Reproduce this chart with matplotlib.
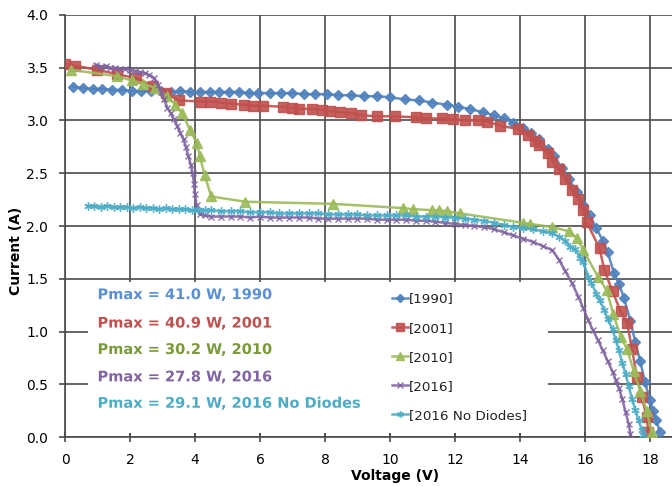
import matplotlib
matplotlib.use("Agg")
import matplotlib.pyplot as plt
from matplotlib.patches import Rectangle
import matplotlib.patheffects as pe

# ---- data ----
v1990 = [0.25,0.55,0.85,1.15,1.45,1.75,2.05,2.35,2.65,2.95,3.25,3.55,3.85,4.15,4.45,4.75,5.05,5.35,5.65,5.95,
         6.3,6.65,7.0,7.35,7.7,8.05,8.4,8.8,9.2,9.6,10.0,10.45,10.9,11.3,11.75,12.1,12.45,12.85,13.2,13.5,
         13.8,14.1,14.35,14.6,14.85,15.05,15.3,15.5,15.75,15.95,16.15,16.35,16.55,16.7,16.9,17.05,17.2,17.4,17.55,17.7,
         17.85,18.0,18.1,18.2,18.3]
i1990 = [3.32,3.31,3.30,3.30,3.29,3.29,3.28,3.28,3.28,3.28,3.27,3.28,3.27,3.27,3.27,3.27,3.27,3.27,3.26,3.26,
         3.26,3.26,3.26,3.25,3.25,3.25,3.24,3.24,3.23,3.23,3.22,3.20,3.19,3.17,3.15,3.13,3.11,3.08,3.05,3.02,
         2.98,2.93,2.88,2.82,2.73,2.66,2.55,2.45,2.32,2.20,2.10,1.98,1.86,1.75,1.55,1.45,1.32,1.10,0.90,0.72,
         0.52,0.35,0.25,0.16,0.05]

v2001 = [0.0,0.3,1.0,1.6,2.2,2.7,3.1,3.5,4.2,4.45,4.8,5.1,5.5,5.8,6.1,6.7,7.0,7.2,7.6,7.9,8.15,8.45,8.8,9.1,9.6,
         10.15,10.8,11.1,11.6,11.95,12.3,12.7,13.0,13.4,13.95,14.25,14.45,14.6,14.85,15.0,15.2,15.4,15.6,15.8,15.95,
         16.05,16.45,16.6,16.85,17.1,17.3,17.45,17.6,17.75,17.9,17.95]
i2001 = [3.535,3.52,3.48,3.44,3.40,3.33,3.26,3.19,3.18,3.18,3.17,3.16,3.15,3.14,3.14,3.13,3.12,3.11,3.11,3.10,3.09,3.08,3.07,3.05,3.04,
         3.04,3.03,3.02,3.02,3.01,3.00,3.00,2.99,2.95,2.92,2.86,2.81,2.77,2.69,2.61,2.54,2.45,2.34,2.26,2.15,
         2.04,1.79,1.58,1.38,1.19,1.08,0.83,0.57,0.38,0.19,0.05]

v2010 = [0.2,1.6,2.06,2.4,2.77,3.13,3.4,3.6,3.85,4.05,4.15,4.3,4.5,5.55,8.25,10.4,10.7,11.3,11.5,11.75,12.15,
         14.1,14.3,15.0,15.5,15.75,15.95,16.4,16.67,16.87,17.1,17.3,17.5,17.7,17.9,18.05]
i2010 = [3.48,3.42,3.38,3.35,3.31,3.23,3.15,3.07,2.91,2.79,2.66,2.48,2.28,2.23,2.21,2.17,2.16,2.15,2.15,2.14,2.12,
         2.03,2.02,1.99,1.95,1.89,1.77,1.52,1.39,1.17,0.95,0.83,0.63,0.44,0.25,0.05]

v2016 = [0.95,1.1,1.25,1.4,1.55,1.7,1.85,2.0,2.15,2.3,2.45,2.6,2.75,2.85,2.95,3.05,3.15,3.25,3.35,3.45,
         3.55,3.65,3.72,3.8,3.87,3.93,3.97,4.0,4.05,4.15,4.3,4.5,4.8,5.1,5.4,5.7,6.0,6.3,6.6,6.9,
         7.2,7.5,7.8,8.1,8.4,8.7,9.0,9.3,9.6,9.9,10.2,10.5,10.8,11.1,11.4,11.7,12.0,12.3,12.6,12.9,
         13.2,13.5,13.8,14.1,14.4,14.7,15.0,15.2,15.4,15.6,15.8,15.95,16.1,16.25,16.4,16.55,16.7,16.85,16.95,17.05,
         17.15,17.25,17.35,17.4]
i2016 = [3.53,3.51,3.52,3.50,3.50,3.49,3.49,3.48,3.47,3.46,3.45,3.43,3.40,3.34,3.27,3.20,3.12,3.07,3.01,2.95,
         2.88,2.82,2.75,2.66,2.58,2.50,2.40,2.30,2.20,2.11,2.10,2.09,2.09,2.09,2.09,2.08,2.09,2.08,2.08,2.08,
         2.08,2.08,2.07,2.07,2.07,2.07,2.07,2.07,2.06,2.06,2.06,2.06,2.05,2.05,2.04,2.03,2.02,2.01,2.00,1.99,
         1.97,1.94,1.91,1.88,1.85,1.81,1.77,1.68,1.57,1.46,1.33,1.22,1.11,1.01,0.92,0.82,0.72,0.62,0.54,0.46,
         0.36,0.24,0.12,0.03]

vnd = [0.7,0.9,1.1,1.3,1.5,1.7,1.9,2.1,2.3,2.5,2.7,2.9,3.1,3.3,3.5,3.7,3.9,4.1,4.3,4.5,
       4.8,5.1,5.4,5.7,6.0,6.3,6.6,6.9,7.2,7.5,7.8,8.1,8.4,8.7,9.0,9.3,9.6,9.9,10.2,10.5,
       10.8,11.1,11.4,11.7,12.0,12.3,12.6,12.9,13.2,13.5,13.8,14.1,14.4,14.7,15.0,15.2,15.4,15.55,15.7,15.85,
       15.95,16.1,16.2,16.35,16.45,16.6,16.7,16.85,16.95,17.05,17.15,17.25,17.35,17.45,17.55,17.65,17.75,17.8]
ind = [2.19,2.19,2.18,2.19,2.18,2.18,2.18,2.17,2.18,2.17,2.17,2.16,2.17,2.16,2.16,2.16,2.15,2.15,2.15,2.15,
       2.14,2.14,2.14,2.13,2.13,2.13,2.12,2.12,2.12,2.12,2.12,2.11,2.11,2.11,2.11,2.10,2.10,2.10,2.10,2.10,
       2.09,2.09,2.09,2.08,2.08,2.07,2.06,2.05,2.03,2.01,1.99,1.98,1.97,1.95,1.93,1.90,1.86,1.80,1.78,1.70,
       1.66,1.52,1.46,1.36,1.30,1.20,1.12,1.02,0.92,0.82,0.70,0.60,0.48,0.36,0.26,0.16,0.07,0.02]

labels = ["[1990]", "[2001]", "[2010]", "[2016]", "[2016 No Diodes]"]
pmax_texts = ["Pmax = 41.0 W, 1990", "Pmax = 40.9 W, 2001", "Pmax = 30.2 W, 2010",
              "Pmax = 27.8 W, 2016", "Pmax = 29.1 W, 2016 No Diodes"]
xticks = [0, 2, 4, 6, 8, 10, 12, 14, 16, 18]
yticks = [0.0, 0.5, 1.0, 1.5, 2.0, 2.5, 3.0, 3.5, 4.0]

colors = ["#4F81BD", "#C0504D", "#9BBB59", "#8064A2", "#4BACC6"]
text_colors = ["#5A8FD6", "#C0504D", "#7A9A3A", "#8064A2", "#4BACC6"]

fig = plt.figure(figsize=(6.72, 4.86), dpi=100)
ax = fig.add_axes([65/672, 49/486, 607/672, 422/486])
ax.set_xlim(0, 18.68)
ax.set_ylim(0, 4.0)
ax.set_xticks(xticks)
ax.set_yticks(yticks)
ax.set_yticklabels([f"{t:.1f}" for t in yticks])
ax.set_axisbelow(True)
ax.grid(True, color="#4a4a4a", lw=1.2)
for s in ["top", "right"]:
    ax.spines[s].set_visible(False)
for s in ["left", "bottom"]:
    ax.spines[s].set_color("#4a4a4a")
    ax.spines[s].set_linewidth(1.2)
ax.tick_params(axis="x", direction="inout", length=7, width=1.2, color="#4a4a4a", labelsize=10, pad=8)
ax.tick_params(axis="y", direction="out", length=4, width=1.2, color="#4a4a4a", labelsize=10, pad=8)

# white box covering grid lines (text/legend area)
ax.add_patch(Rectangle((0.7, 0.04), 14.16, 1.43, facecolor="white", edgecolor="none", zorder=1))

series = [(v1990, i1990, "D", 5, colors[0]),
          (v2001, i2001, "s", 7, colors[1]),
          (v2010, i2010, "^", 7, colors[2]),
          (v2016, i2016, "x", 5, colors[3]),
          (vnd, ind, (6, 2, 0), 6, colors[4])]
handles = []
for (v, i, m, ms, c), lab in zip(series, labels):
    h, = ax.plot(v, i, color=c, lw=1.8, marker=m, markersize=ms, markeredgewidth=1.0,
                 markeredgecolor=c, markerfacecolor=c, label=lab, zorder=3, alpha=0.9)
    handles.append(h)

leg = ax.legend(handles=handles, loc="upper left", bbox_to_anchor=(10.05, 1.37),
                bbox_transform=ax.transData, frameon=False, fontsize=9.7,
                handlelength=1.2, handletextpad=0.1, labelspacing=1.2, borderpad=0,
                borderaxespad=0, markerscale=0.8)
for t in leg.get_texts():
    t.set_color("#222222")

ys = [1.35, 1.08, 0.83, 0.57, 0.32]
for txt, y, c in zip(pmax_texts, ys, text_colors):
    ax.text(1.0, y, txt, color=c, fontsize=10.5, fontweight="bold", va="center", ha="left", zorder=4,
            path_effects=[pe.withStroke(linewidth=2, foreground="white")])

ax.set_xlabel("Voltage (V)", fontsize=10, fontweight="bold")
ax.xaxis.set_label_coords((395 - 65) / 607, -0.076)
ax.set_ylabel("Current (A)", fontsize=10, fontweight="bold")
ax.yaxis.set_label_coords(-0.069, 0.44)

fig.savefig("out.png", dpi=100)
